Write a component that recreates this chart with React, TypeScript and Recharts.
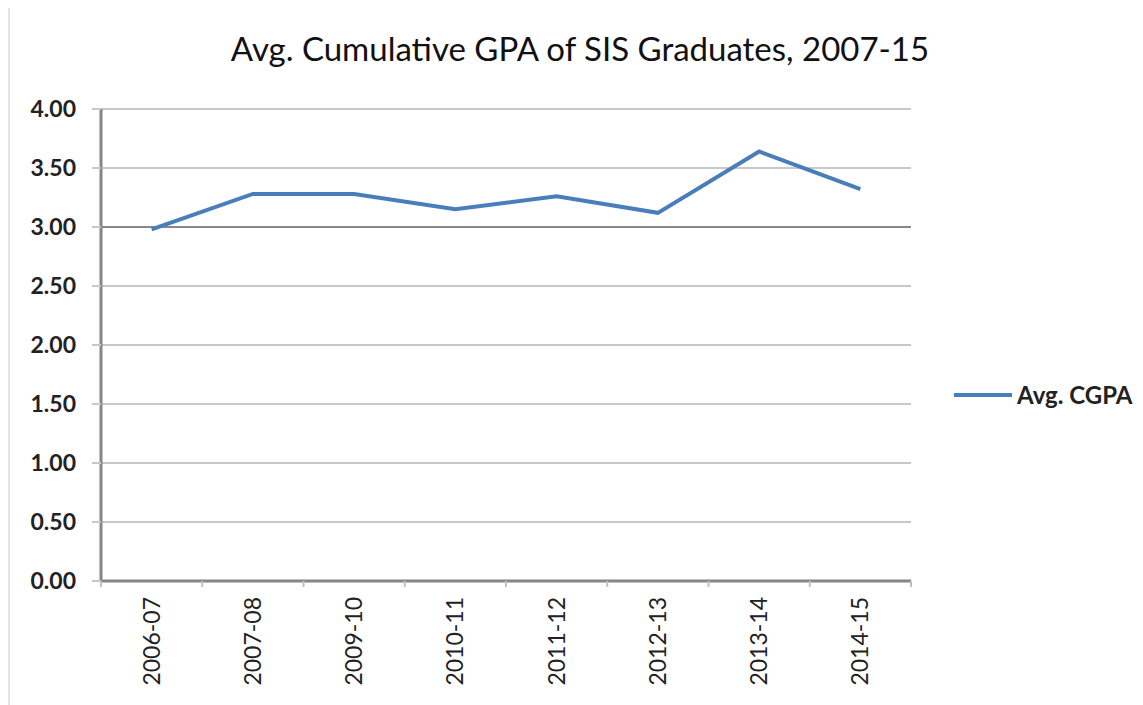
import {
  LineChart,
  Line,
  XAxis,
  YAxis,
  CartesianGrid,
  Legend,
  ReferenceLine
} from "recharts";

const years = ["2006-07", "2007-08", "2009-10", "2010-11", "2011-12", "2012-13", "2013-14", "2014-15"];
const avgCgpa = [2.98, 3.28, 3.28, 3.15, 3.26, 3.12, 3.64, 3.32];
const yTicks = [0, 0.5, 1, 1.5, 2, 2.5, 3, 3.5, 4];

const data = years.map((year, i) => ({ year, cgpa: avgCgpa[i] }));

const WIDTH = 1133;
const HEIGHT = 697;
const MARGIN = { top: 101, right: 232, bottom: 14, left: 31 };
const Y_AXIS_W = 60;
const PLOT_W = WIDTH - MARGIN.left - MARGIN.right - Y_AXIS_W;
const STEP = PLOT_W / years.length;
const FONT = "Lato, 'Open Sans', sans-serif";

const XTick = ({ x, y, payload, index }: any) => {
  const last = index === years.length - 1;
  return (
    <g>
      <line x1={x - STEP / 2} x2={x - STEP / 2} y1={y - 8} y2={y - 2} stroke="#c0c0c0" strokeWidth={2} />
      {last && (
        <line x1={x + STEP / 2} x2={x + STEP / 2} y1={y - 8} y2={y - 2} stroke="#c0c0c0" strokeWidth={2} />
      )}
      <text
        x={x}
        y={y + 8}
        dy="0.35em"
        transform={`rotate(-90, ${x}, ${y + 8})`}
        textAnchor="end"
        fill="#222"
        fontSize={23}
        fontFamily={FONT}
      >
        {payload.value}
      </text>
    </g>
  );
};

const LegendContent = () => (
  <div style={{ display: "flex", alignItems: "center", fontFamily: FONT }}>
    <div style={{ width: 58, height: 4, background: "#4a7ebb", marginRight: 5 }} />
    <span style={{ fontSize: 24, fontWeight: 700, color: "#222" }}>Avg. CGPA</span>
  </div>
);

export default function App() {
  return (
    <div style={{ position: "relative", width: WIDTH, height: HEIGHT, borderLeft: "2px solid #e2e2e2", background: "#fff" }}>
      <div
        style={{
          position: "absolute",
          left: 0,
          width: 1140,
          top: 20,
          textAlign: "center",
          fontFamily: FONT,
          fontSize: 33,
          color: "#111"
        }}
      >
        Avg. Cumulative GPA of SIS Graduates, 2007-15
      </div>
      <LineChart width={WIDTH} height={HEIGHT} data={data} margin={MARGIN}>
        <CartesianGrid vertical={false} stroke="#c8c8c8" strokeWidth={2} />
        <XAxis
          dataKey="year"
          scale="band"
          height={110}
          interval={0}
          axisLine={{ stroke: "#868686", strokeWidth: 3 }}
          tickLine={false}
          tick={<XTick />}
        />
        <YAxis
          width={Y_AXIS_W}
          domain={[0, 4]}
          ticks={yTicks}
          interval={0}
          tickFormatter={(v: number) => v.toFixed(2)}
          axisLine={{ stroke: "#868686", strokeWidth: 3 }}
          tickLine={{ stroke: "#c8c8c8", strokeWidth: 2 }}
          tickSize={9}
          tickMargin={16}
          tick={{ fill: "#222", fontSize: 23, fontWeight: 700, fontFamily: FONT }}
        />
        <ReferenceLine y={3} stroke="#888" strokeWidth={2} />
        <Legend
          layout="horizontal"
          verticalAlign="middle"
          align="center"
          content={<LegendContent />}
          wrapperStyle={{ left: 944, top: 372, width: 190 }}
        />
        <Line
          type="linear"
          dataKey="cgpa"
          name="Avg. CGPA"
          stroke="#4a7ebb"
          strokeWidth={4}
          dot={false}
          isAnimationActive={false}
        />
      </LineChart>
    </div>
  );
}
